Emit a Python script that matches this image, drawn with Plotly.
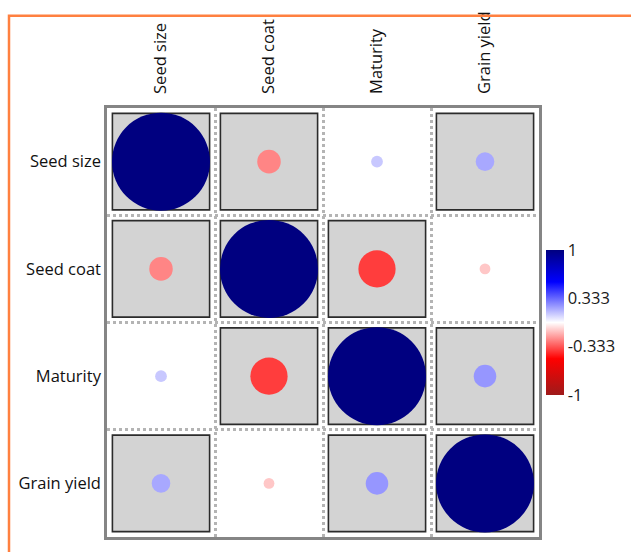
import plotly.graph_objects as go

# ---- data ----
variables = ["Seed size", "Seed coat", "Maturity", "Grain yield"]
corr = [
    [1.00, -0.24, 0.12, 0.19],
    [-0.24, 1.00, -0.38, -0.11],
    [0.12, -0.38, 1.00, 0.23],
    [0.19, -0.11, 0.23, 1.00],
]
significant = [
    [1, 1, 0, 1],
    [1, 1, 1, 0],
    [0, 1, 1, 1],
    [1, 0, 1, 1],
]
cbar_tickvals = [-1, -0.333, 0.333, 1]
cbar_ticktext = ["-1", "-0.333", "0.333", "1"]

# ---- style ----
W, H = 631, 552
PL, PR, PT, PB = 107, 539, 104, 537  # plot area in pixels
FONT = "Open Sans"
colorscale = [
    [0.0, "#9E1A1A"],
    [0.25, "#FF0000"],
    [0.5, "#FFFFFF"],
    [0.78, "#0000FF"],
    [1.0, "#000080"],
]
FULL_DIAM = 98  # marker diameter (px) for |r| = 1
HALF = 0.45     # half width of significance square, in cell units

n = len(variables)
xs, ys, vals, sizes = [], [], [], []
for i in range(n):
    for j in range(n):
        v = corr[i][j]
        xs.append(j)
        ys.append(i)
        vals.append(v)
        sizes.append(abs(v) * FULL_DIAM)

fig = go.Figure()
fig.add_trace(go.Scatter(
    x=xs, y=ys, mode="markers",
    marker=dict(
        size=sizes, color=vals, cmin=-1, cmax=1, colorscale=colorscale,
        line=dict(width=0), opacity=1,
        showscale=True,
        colorbar=dict(
            x=(546 - PL) / (PR - PL), xanchor="left", xpad=0,
            y=0.5, yanchor="middle", ypad=0,
            len=145, lenmode="pixels", thickness=18,
            outlinewidth=0, ticks="",
            tickvals=cbar_tickvals, ticktext=cbar_ticktext,
            tickfont=dict(family=FONT, size=16.5, color="#1a1a1a"),
        ),
    ),
    hoverinfo="skip", showlegend=False,
))

shapes = []
for i in range(n):
    for j in range(n):
        if significant[i][j]:
            shapes.append(dict(
                type="rect", xref="x", yref="y", layer="between",
                x0=j - HALF, x1=j + HALF, y0=i - HALF, y1=i + HALF,
                fillcolor="#D3D3D3", line=dict(color="#2b2b2b", width=1.6),
            ))

# orange outer frame
pw, ph = PR - PL, PB - PT
shapes.append(dict(
    type="rect", xref="paper", yref="paper", layer="above",
    x0=(9 - PL) / pw, x1=(700 - PL) / pw,
    y0=(PB - 600) / ph, y1=(PB - 11) / ph,
    line=dict(color="#FF8040", width=2.5), fillcolor="rgba(0,0,0,0)",
))

axis_common = dict(
    tickmode="array", tickvals=list(range(n)), ticktext=variables,
    showgrid=False, zeroline=False, ticks="",
    showline=True, mirror=True, linecolor="#858585", linewidth=2.5,
    tickfont=dict(family=FONT, size=16.5, color="#111111"),
    minor=dict(tickmode="linear", tick0=0.5, dtick=1, showgrid=True,
               gridcolor="#b4b4b4", griddash="dot", gridwidth=2.5, ticks=""),
    fixedrange=True,
)

fig.update_layout(
    width=W, height=H,
    margin=dict(l=PL, r=W - PR, t=PT, b=H - PB, pad=0),
    paper_bgcolor="white", plot_bgcolor="white",
    shapes=shapes,
    xaxis=dict(range=[-0.5, n - 0.5], side="top", tickangle=-90,
               ticklabelstandoff=8, **axis_common),
    yaxis=dict(range=[n - 0.5, -0.5], ticklabelstandoff=0, **axis_common),
)

fig.write_html(
    "out.html",
    config={"displayModeBar": False},
    post_script="document.body.style.margin='0';document.body.style.overflow='hidden';",
)
